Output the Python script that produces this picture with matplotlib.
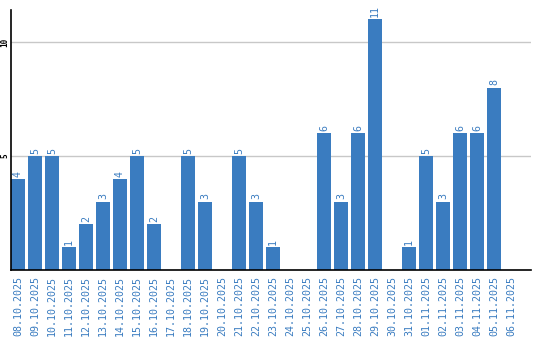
import matplotlib
matplotlib.use('Agg')
import matplotlib.pyplot as plt

# dados
datas = ['08.10.2025', '09.10.2025', '10.10.2025', '11.10.2025', '12.10.2025',
         '13.10.2025', '14.10.2025', '15.10.2025', '16.10.2025', '17.10.2025',
         '18.10.2025', '19.10.2025', '20.10.2025', '21.10.2025', '22.10.2025',
         '23.10.2025', '24.10.2025', '25.10.2025', '26.10.2025', '27.10.2025',
         '28.10.2025', '29.10.2025', '30.10.2025', '31.10.2025', '01.11.2025',
         '02.11.2025', '03.11.2025', '04.11.2025', '05.11.2025', '06.11.2025']
valores = [4, 5, 5, 1, 2, 3, 4, 5, 2, 0,
           5, 3, 0, 5, 3, 1, 0, 0, 6, 3,
           6, 11, 0, 1, 5, 3, 6, 6, 8, 0]

cor_barra = '#3a7cc0'
cor_texto = '#3a7cc0'
fonte = 'DejaVu Sans Mono'

fig = plt.figure(figsize=(5.4, 3.4), dpi=100)
ax = fig.add_axes([10.5 / 540, 1 - 270 / 340, (531 - 10.5) / 540, (270 - 10) / 340])

x = list(range(len(datas)))
ax.bar(x, valores, width=0.82, color=cor_barra, zorder=2)

for xi, v in zip(x, valores):
    if v > 0:
        ax.annotate(str(v), (xi, v), xytext=(0, 1.5), textcoords='offset points',
                    rotation=90, ha='center', va='bottom', color=cor_texto,
                    fontsize=7.2, family=fonte)

ax.set_xlim(-0.44, 30.18)
ax.set_ylim(0, 11.4)
ax.set_yticks([5, 10])
ax.set_yticklabels(['5', '10'], rotation=90, va='center', fontsize=5.5,
                   family=fonte, fontweight='bold')
ax.set_xticks(x)
ax.set_xticklabels(datas, rotation=90, color=cor_texto, fontsize=7.2, family=fonte)
ax.tick_params(axis='both', length=0)
ax.tick_params(axis='x', pad=4)
ax.tick_params(axis='y', pad=1)

ax.grid(axis='y', color='#c8c8c8', linewidth=1, zorder=0)
for lado in ['top', 'right']:
    ax.spines[lado].set_visible(False)
ax.spines['left'].set_color('black')
ax.spines['bottom'].set_color('black')
ax.spines['left'].set_linewidth(1.2)
ax.spines['bottom'].set_linewidth(1.2)
ax.spines['left'].set_zorder(3)
ax.spines['bottom'].set_zorder(3)

fig.savefig('out.png', dpi=100)
